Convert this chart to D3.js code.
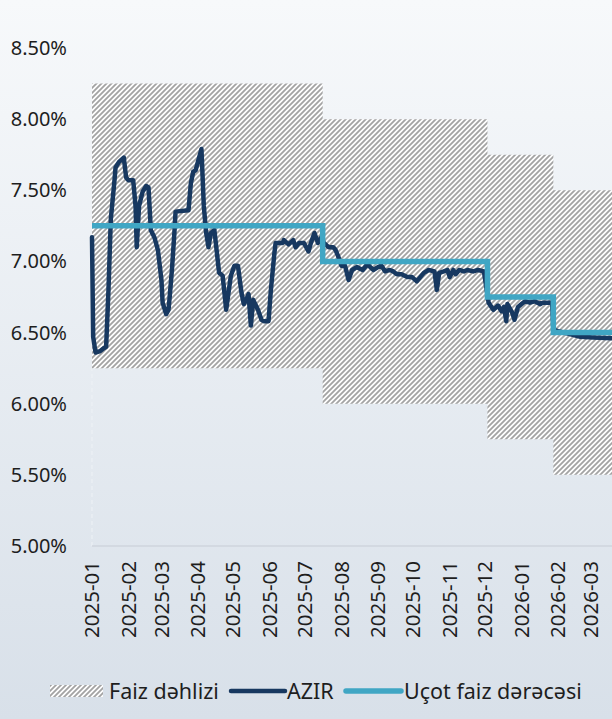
<!DOCTYPE html>
<html>
<head>
<meta charset="utf-8">
<script src="https://cdn.jsdelivr.net/npm/d3@7"></script>
<style>
  html, body { margin: 0; padding: 0; }
  body { width: 612px; height: 719px; overflow: hidden; }
  text { font-family: "Noto Sans", sans-serif; fill: #1e1e1e; }
</style>
</head>
<body>
<script>
const w = 612;
const h = 719;

// policy rate and corridor (value holds until next date)
const rateDates = ["2025-01-01", "2025-07-16", "2025-12-03", "2026-01-28", "2026-05-01"];
const rateValues = [7.25, 7.00, 6.75, 6.50, 6.50];
const corridorLow = [6.25, 6.00, 5.75, 5.50, 5.50];
const corridorHigh = [8.25, 8.00, 7.75, 7.50, 7.50];

// AZIR
const azirDates = [
  "2025-01-01","2025-01-02","2025-01-04","2025-01-08","2025-01-11","2025-01-13","2025-01-15","2025-01-17",
  "2025-01-20","2025-01-21","2025-01-24","2025-01-28","2025-01-30","2025-02-01","2025-02-05","2025-02-07",
  "2025-02-08","2025-02-10","2025-02-13","2025-02-16","2025-02-18","2025-02-20","2025-02-23","2025-02-26",
  "2025-03-01","2025-03-02","2025-03-05","2025-03-07","2025-03-08","2025-03-10","2025-03-12","2025-03-13",
  "2025-03-24","2025-03-26","2025-03-28","2025-03-30","2025-04-01","2025-04-04","2025-04-06","2025-04-08",
  "2025-04-10","2025-04-12","2025-04-15","2025-04-19","2025-04-22","2025-04-25","2025-04-29","2025-05-02",
  "2025-05-05","2025-05-08","2025-05-10","2025-05-12","2025-05-14","2025-05-16","2025-05-18","2025-05-22",
  "2025-05-25","2025-05-27","2025-05-31","2025-06-02","2025-06-05","2025-06-06","2025-06-12","2025-06-13",
  "2025-06-17","2025-06-21","2025-06-23","2025-06-26","2025-06-30","2025-07-04","2025-07-06","2025-07-09",
  "2025-07-12","2025-07-15","2025-07-17","2025-07-21","2025-07-25","2025-07-27","2025-07-29","2025-08-01",
  "2025-08-04","2025-08-07","2025-08-10","2025-08-14","2025-08-19","2025-08-23","2025-08-28","2025-09-01",
  "2025-09-04","2025-09-07","2025-09-11","2025-09-14","2025-09-17","2025-09-21","2025-09-26","2025-09-30",
  "2025-10-04","2025-10-08","2025-10-10","2025-10-14","2025-10-19","2025-10-21","2025-10-23","2025-10-27",
  "2025-10-30","2025-11-01","2025-11-04","2025-11-06","2025-11-09","2025-11-13","2025-11-16","2025-11-21",
  "2025-11-25","2025-11-30","2025-12-04","2025-12-08","2025-12-12","2025-12-15","2025-12-17","2025-12-19",
  "2025-12-20","2025-12-24","2025-12-26","2025-12-29","2026-01-01","2026-01-04","2026-01-08","2026-01-12",
  "2026-01-17","2026-01-19","2026-01-23","2026-01-27","2026-01-28","2026-02-01","2026-02-11","2026-02-20",
  "2026-03-03","2026-03-19"
];
const azirValues = [
  7.17, 6.47, 6.36, 6.37, 6.39, 6.40, 6.80, 7.30,
  7.56, 7.66, 7.70, 7.73, 7.59, 7.57, 7.57, 7.39,
  7.10, 7.39, 7.49, 7.53, 7.52, 7.22, 7.17, 7.08,
  6.87, 6.71, 6.63, 6.66, 6.75, 6.95, 7.20, 7.35,
  7.36, 7.55, 7.63, 7.64, 7.70, 7.79, 7.39, 7.20,
  7.10, 7.20, 7.22, 6.92, 6.90, 6.66, 6.90, 6.97,
  6.97, 6.78, 6.70, 6.73, 6.77, 6.55, 6.73, 6.66,
  6.59, 6.58, 6.58, 6.80, 7.06, 7.13, 7.13, 7.15,
  7.12, 7.15, 7.10, 7.13, 7.13, 7.07, 7.13, 7.20,
  7.13, 7.17, 7.13, 7.10, 7.10, 7.08, 7.04, 6.97,
  6.97, 6.87, 6.94, 6.96, 6.94, 6.98, 6.94, 6.96,
  6.97, 6.93, 6.94, 6.93, 6.91, 6.91, 6.89, 6.89,
  6.86, 6.90, 6.92, 6.94, 6.93, 6.80, 6.92, 6.93,
  6.94, 6.89, 6.94, 6.91, 6.94, 6.93, 6.94, 6.93,
  6.94, 6.93, 6.71, 6.66, 6.69, 6.65, 6.68, 6.58,
  6.70, 6.64, 6.59, 6.68, 6.70, 6.72, 6.71, 6.72,
  6.70, 6.71, 6.71, 6.71, 6.52, 6.51, 6.49, 6.47,
  6.465, 6.46
];

const yTicks = [5.0, 5.5, 6.0, 6.5, 7.0, 7.5, 8.0, 8.5];
const xTickLabels = ["2025-01","2025-02","2025-03","2025-04","2025-05","2025-06","2025-07",
  "2025-08","2025-09","2025-10","2025-11","2025-12","2026-01","2026-02","2026-03"];

const legendLabels = ["Faiz dəhlizi", "AZIR", "Uçot faiz dərəcəsi"];

const navy = "#173860";
const teal = "#40a6c4";

const parse = d3.timeParse("%Y-%m-%d");
const parseMonth = d3.timeParse("%Y-%m");

const rates = rateDates.map((d, i) => ({
  date: parse(d), rate: rateValues[i], lo: corridorLow[i], hi: corridorHigh[i]
}));
const azir = azirDates.map((d, i) => ({ date: parse(d), v: azirValues[i] }));

const xScale = d3.scaleTime()
  .domain([parse("2025-01-01"), parse("2026-03-01")])
  .range([92, 591]);

const yScale = d3.scaleLinear()
  .domain([5, 8.5])
  .range([546, 48]);

const svg = d3.select("body")
  .append("svg")
  .attr("width", w)
  .attr("height", h);

const defs = svg.append("defs");

const grad = defs.append("linearGradient")
  .attr("id", "bg")
  .attr("x1", 0).attr("y1", 0).attr("x2", 0).attr("y2", 1);
grad.append("stop").attr("offset", "0%").attr("stop-color", "#f7f9fb");
grad.append("stop").attr("offset", "100%").attr("stop-color", "#d8e0e9");

const hatch = defs.append("pattern")
  .attr("id", "hatch")
  .attr("patternUnits", "userSpaceOnUse")
  .attr("width", 5)
  .attr("height", 5);
hatch.append("rect").attr("width", 5).attr("height", 5).attr("fill", "#ffffff");
hatch.append("path")
  .attr("d", "M-1.25,1.25 l2.5,-2.5 M0,5 l5,-5 M3.75,6.25 l2.5,-2.5")
  .attr("stroke", "#a3a3a3")
  .attr("stroke-width", 1.8);

svg.append("rect")
  .attr("width", w)
  .attr("height", h)
  .attr("fill", "url(#bg)");

// dashed vertical axis line under the corridor
svg.append("line")
  .attr("x1", xScale(rates[0].date))
  .attr("x2", xScale(rates[0].date))
  .attr("y1", yScale(5))
  .attr("y2", yScale(rates[0].lo))
  .attr("stroke", "#eef2f6")
  .attr("stroke-dasharray", "4,3");

// corridor
const corridor = d3.area()
  .curve(d3.curveStepAfter)
  .x(d => xScale(d.date))
  .y0(d => yScale(d.lo))
  .y1(d => yScale(d.hi));

svg.append("path")
  .datum(rates)
  .attr("d", corridor)
  .attr("fill", "url(#hatch)");

// x axis line
svg.append("line")
  .attr("x1", xScale(parse("2025-01-01")))
  .attr("x2", w)
  .attr("y1", yScale(5))
  .attr("y2", yScale(5))
  .attr("stroke", "#cfd5dc")
  .attr("stroke-width", 1.5);

// AZIR line
const azirLine = d3.line()
  .x(d => xScale(d.date))
  .y(d => yScale(d.v));

svg.append("path")
  .datum(azir)
  .attr("d", azirLine)
  .attr("fill", "none")
  .attr("stroke", navy)
  .attr("stroke-width", 4.5)
  .attr("stroke-linejoin", "round")
  .attr("stroke-linecap", "round");

// policy rate
const rateLine = d3.line()
  .curve(d3.curveStepAfter)
  .x(d => xScale(d.date))
  .y(d => yScale(d.rate));

svg.append("path")
  .datum(rates)
  .attr("d", rateLine)
  .attr("fill", "none")
  .attr("stroke", teal)
  .attr("stroke-width", 5.5);

// y labels
svg.append("g")
  .selectAll("text")
  .data(yTicks)
  .enter()
  .append("text")
  .attr("x", 67)
  .attr("y", d => yScale(d))
  .attr("dy", "0.35em")
  .attr("text-anchor", "end")
  .attr("font-size", 20)
  .text(d => d3.format(".2f")(d) + "%");

// x labels (rotated)
svg.append("g")
  .selectAll("text")
  .data(xTickLabels)
  .enter()
  .append("text")
  .attr("transform", d => "translate(" + xScale(parseMonth(d)) + "," + (yScale(5) + 15) + ") rotate(-90)")
  .attr("dy", "0.35em")
  .attr("text-anchor", "end")
  .attr("font-size", 20.5)
  .text(d => d);

// legend
const legend = svg.append("g").attr("transform", "translate(0,691)");

legend.append("rect")
  .attr("x", 50).attr("y", -6)
  .attr("width", 53).attr("height", 12)
  .attr("fill", "url(#hatch)");
legend.append("text").attr("x", 109).attr("dy", "0.35em").attr("font-size", 21.5).text(legendLabels[0]);

legend.append("line")
  .attr("x1", 231).attr("x2", 285)
  .attr("stroke", navy).attr("stroke-width", 4.5).attr("stroke-linecap", "round");
legend.append("text").attr("x", 287).attr("dy", "0.35em").attr("font-size", 21.5).text(legendLabels[1]);

legend.append("line")
  .attr("x1", 346).attr("x2", 401)
  .attr("stroke", teal).attr("stroke-width", 5.5).attr("stroke-linecap", "round");
legend.append("text").attr("x", 404).attr("dy", "0.35em").attr("font-size", 21.5).text(legendLabels[2]);
</script>
</body>
</html>
